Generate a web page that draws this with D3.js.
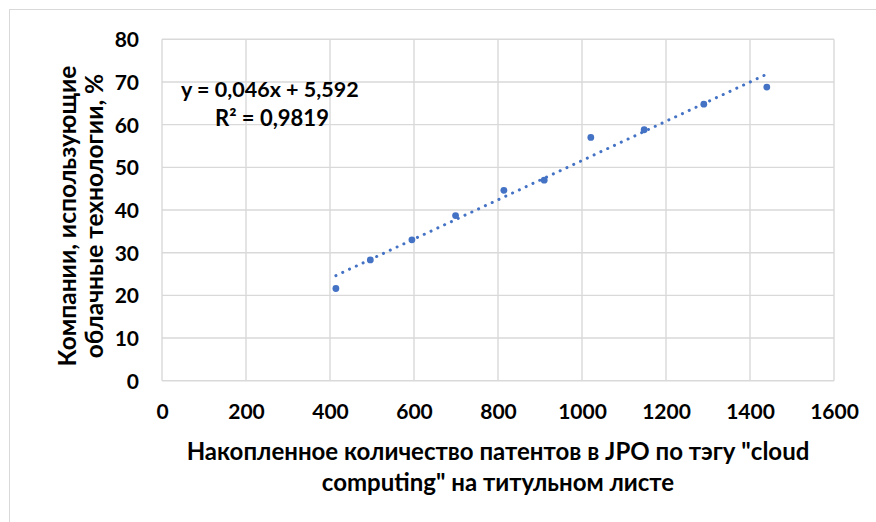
<!DOCTYPE html>
<html>
<head>
<meta charset="utf-8">
<script src="https://cdn.jsdelivr.net/npm/d3@7"></script>
<style>
  html, body { margin: 0; padding: 0; background: #fff; }
  svg { display: block; }
  text { font-family: Lato, "Open Sans", "Liberation Sans", sans-serif; font-weight: bold; fill: #000; }
</style>
</head>
<body>
<svg id="chart" width="876" height="522"></svg>
<script>
// Patents (x) vs share of companies using cloud technologies (y, %)
const patents = [414, 496, 595, 699, 814, 910, 1021, 1148, 1290, 1440];
const cloudShare = [21.6, 28.3, 33.0, 38.7, 44.6, 47.0, 57.0, 58.8, 64.8, 68.8];
const xTicks = [0, 200, 400, 600, 800, 1000, 1200, 1400, 1600];
const yTicks = [0, 10, 20, 30, 40, 50, 60, 70, 80];
const trendSlope = 0.046;
const trendIntercept = 5.592;
const equationLabel = "y = 0,046x + 5,592";
const r2Label = "R² = 0,9819";
const xTitle = ["Накопленное количество патентов в JPO по тэгу \"cloud", "computing\" на титульном листе"];
const yTitle = ["Компании, использующие", "облачные технологии, %"];

const svg = d3.select("#chart");
const blue = "#4472C4";
const gridColor = "#d9d9d9";

// chart frame
svg.append("rect")
  .attr("x", 9.5).attr("y", 9.5)
  .attr("width", 876).attr("height", 522)
  .attr("fill", "none").attr("stroke", gridColor).attr("stroke-width", 1);

const x = d3.scaleLinear().domain([0, 1600]).range([162, 834]);
const y = d3.scaleLinear().domain([0, 80]).range([380.7, 39.3]);

// gridlines
svg.append("g").selectAll("line").data(xTicks).join("line")
  .attr("x1", d => x(d)).attr("x2", d => x(d))
  .attr("y1", y(0)).attr("y2", y(80))
  .attr("stroke", gridColor).attr("stroke-width", 1.4);
svg.append("g").selectAll("line").data(yTicks).join("line")
  .attr("x1", x(0)).attr("x2", x(1600))
  .attr("y1", d => y(d)).attr("y2", d => y(d))
  .attr("stroke", gridColor).attr("stroke-width", 1.4);

// axes (labels only; gridlines serve as the lines)
const xAxis = d3.axisBottom(x).tickValues(xTicks).tickSize(0).tickPadding(0).tickFormat(d3.format("d"));
const gx = svg.append("g").attr("transform", `translate(0,${y(0)})`).call(xAxis);
gx.select(".domain").remove();
gx.selectAll("text").attr("y", 38).attr("dy", null);

const yAxis = d3.axisLeft(y).tickValues(yTicks).tickSize(0).tickPadding(23).tickFormat(d3.format("d"));
const gy = svg.append("g").attr("transform", `translate(${x(0)},0)`).call(yAxis);
gy.select(".domain").remove();
gy.selectAll("text").attr("dy", "0.35em");
svg.selectAll(".tick text")
  .attr("fill", "#000").attr("font-family", null).attr("font-size", null)
  .style("font-size", "21px");

// linear trend line, dotted
const xMin = d3.min(patents), xMax = d3.max(patents);
const trend = [xMin, xMax].map(v => [v, trendSlope * v + trendIntercept]);
svg.append("path")
  .attr("d", d3.line().x(d => x(d[0])).y(d => y(d[1]))(trend))
  .attr("fill", "none").attr("stroke", blue)
  .attr("stroke-width", 3).attr("stroke-linecap", "round")
  .attr("stroke-dasharray", "0.1 7.4");

// data points
svg.append("g").selectAll("circle").data(patents).join("circle")
  .attr("cx", d => x(d)).attr("cy", (d, i) => y(cloudShare[i]))
  .attr("r", 3.4).attr("fill", blue);

// trend equation
svg.append("text").attr("x", 181).attr("y", 97).style("font-size", "21.5px").text(equationLabel);
svg.append("text").attr("x", 215).attr("y", 126).style("font-size", "22px").text(r2Label);

// axis titles
svg.append("g").selectAll("text").data(xTitle).join("text")
  .attr("x", 498).attr("y", (d, i) => 460 + i * 31)
  .attr("text-anchor", "middle").style("font-size", "24px").text(d => d);

svg.append("g").selectAll("text").data(yTitle).join("text")
  .attr("transform", (d, i) => `translate(${76 + i * 27},216) rotate(-90)`)
  .attr("text-anchor", "middle").style("font-size", "24.5px").text(d => d);
</script>
</body>
</html>
